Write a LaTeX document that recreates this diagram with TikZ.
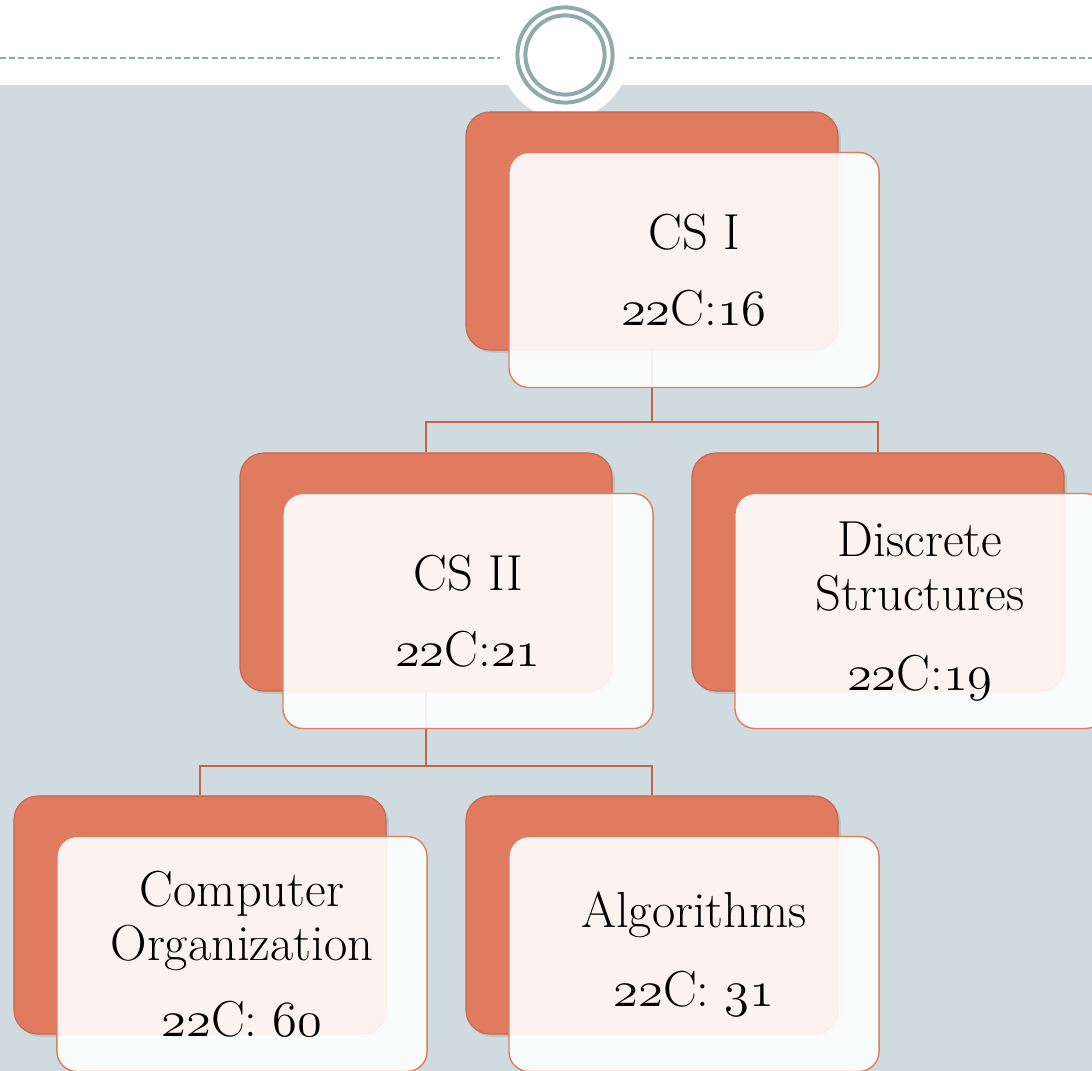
\RequirePackage{fix-cm}
\documentclass[tikz,border=0pt]{standalone}
\usepackage{fontspec}
\usepackage{tikz}
\usetikzlibrary{positioning, shadows, calc}
\definecolor{slidebg}{HTML}{CFDBDF}
\definecolor{ringgray}{HTML}{8FABA9}
\definecolor{boxorange}{HTML}{E17B5F}
\definecolor{boxedge}{HTML}{C8674D}
\definecolor{linkred}{HTML}{C0654C}
\tikzset{
    backbox/.style={rectangle, rounded corners=0.6cm, minimum width=9.3cm, minimum height=5.95cm, fill=boxorange, draw=boxedge, line width=0.8pt, drop shadow={shadow xshift=2pt, shadow yshift=-2pt, opacity=0.25}},
    frontbox/.style={rectangle, rounded corners=0.5cm, minimum width=9.25cm, minimum height=5.875cm, fill=white, fill opacity=0.9, text opacity=1, draw=boxorange, line width=1pt, align=center, font=\fontsize{36}{38.4}\selectfont},
    link/.style={linkred, line width=1.3pt},
}
\newcommand{\osn}[1]{\legacyoldstylenums{#1}}

\begin{document}
\begin{tikzpicture}[x=0.025cm, y=-0.025cm,
  ring/.style={draw=ringgray, line width=0.1cm},
  topline/.style={ringgray, line width=0.8pt, dash pattern=on 0.15cm off 0.08cm}
]
\useasboundingbox (0,0) rectangle (1092,1071);
\fill[white] (0,0) rectangle (1092,1071);
\fill[slidebg] (0,85) rectangle (1092,1071);

% title ornament
\draw[topline] (0,58) -- (500,58);
\draw[topline] (628,58) -- (1092,58);
\fill[white] (565,55) circle (1.6cm);
\draw[ring] (565,55) circle (1.19cm);
\draw[ring] (565,55) circle (0.99cm);

\node[backbox] (cs1back) at (652,231) {};
\node[backbox] (cs2back) at (426,572) {};
\node[backbox] (dsback) at (878,572) {};
\node[backbox] (coback) at (200,915) {};
\node[backbox] (algback) at (652,915) {};

\draw[link] (cs1back.south) -- ++(0,71) -| (cs2back.north);
\draw[link] (cs1back.south) -- ++(0,71) -| (dsback.north);
\draw[link] (cs2back.south) -- ++(0,74) -| (coback.north);
\draw[link] (cs2back.south) -- ++(0,74) -| (algback.north);

\node[frontbox] (cs1) at ([shift={(42,39)}]cs1back.center) {CS I\\[16pt]\osn{22}C:\osn{16}};
\node[frontbox] (cs2) at ([shift={(42,39)}]cs2back.center) {CS II\\[16pt]\osn{22}C:\osn{21}};
\node[frontbox] (ds) at ([shift={(42,39)}]dsback.center) {Discrete\\Structures\\[18pt]\osn{22}C:\osn{19}};
\node[frontbox] (co) at ([shift={(42,39)}]coback.center) {Computer\\Organization\\[16pt]\osn{22}C: \osn{60}};
\node[frontbox] (alg) at ([shift={(42,39)}]algback.center) {Algorithms\\[18pt]\osn{22}C: \osn{31}};
\end{tikzpicture}
\end{document}
